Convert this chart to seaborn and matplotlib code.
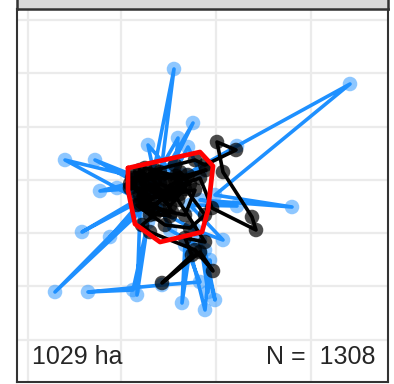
import pandas as pd
import seaborn as sns
import matplotlib.pyplot as plt

# location fixes (easting / northing, arbitrary map units)
# day track (blue)
blue_x = [150, 174, 160, 193, 170, 148, 155, 178, 175, 188, 200, 185, 237, 350, 215,
          292, 200, 237, 190, 223, 195, 65, 140, 95, 135, 100, 140, 117, 145, 82,
          142, 110, 138, 55, 140, 137, 148, 133, 88, 162, 200, 185, 182, 190, 205,
          210, 208, 200, 215, 205, 170, 160]
blue_y = [194, 315, 204, 261, 214, 239, 206, 246, 212, 237, 212, 209, 238, 300, 189,
          177, 184, 178, 179, 144, 154, 224, 206, 224, 202, 193, 196, 196, 189, 152,
          184, 147, 176, 92, 172, 89, 162, 94, 92, 99, 102, 139, 81, 134, 74,
          124, 92, 144, 84, 134, 154, 179]

# night track (black)
black_x = [140, 155, 175, 195, 205, 236, 217, 223, 252, 256, 212, 200, 180, 150, 135,
           148, 168, 195, 185, 160, 142, 150, 195, 213, 200, 162, 192, 185, 205, 178,
           140, 132, 158, 188, 206, 170, 150, 137, 165, 190, 205, 176, 145, 130, 160,
           145, 172, 155, 140, 135, 150, 165, 180, 190, 175, 160, 145, 138, 150, 165,
           180, 170, 155, 142, 160, 175, 185, 165, 150, 140, 155, 170, 145, 130]
black_y = [204, 214, 219, 224, 219, 234, 242, 212, 167, 154, 176, 206, 199, 184, 212,
           196, 189, 194, 169, 174, 159, 152, 134, 113, 132, 101, 129, 146, 142, 184,
           189, 206, 206, 209, 214, 199, 169, 179, 159, 156, 169, 208, 216, 196, 194,
           179, 172, 202, 214, 205, 210, 205, 212, 200, 195, 200, 195, 188, 178, 185,
           190, 178, 190, 200, 212, 205, 195, 192, 200, 180, 170, 168, 185, 200]

# minimum convex polygon vertices
mcp_x = [128, 200, 213, 208, 202, 160, 135, 128, 128]
mcp_y = [216, 232, 218, 174, 152, 142, 160, 194, 216]

grid_x = [28, 121, 216, 311]
grid_y = [44, 98, 151, 204, 257, 311, 364]

area_label = "1029 ha"
n_label = "N =  1308"

sns.set_theme(style="white")
plt.rcParams['font.family'] = ['Liberation Sans', 'DejaVu Sans']

fig = plt.figure(figsize=(3.94, 3.84), dpi=100)
ax = fig.add_axes([17 / 394, 2 / 384, 371 / 394, 373 / 384])

sns.lineplot(x=blue_x, y=blue_y, sort=False, estimator=None, color='#1E90FF',
             lw=2.6, ax=ax, zorder=2)
sns.scatterplot(x=blue_x, y=blue_y, color='#1E90FF', alpha=0.5, s=110,
                edgecolor='none', ax=ax, zorder=3)
sns.lineplot(x=black_x, y=black_y, sort=False, estimator=None, color='black',
             lw=2.6, ax=ax, zorder=4)
sns.scatterplot(x=black_x, y=black_y, color='black', alpha=0.7, s=110,
                edgecolor='none', ax=ax, zorder=5)
sns.lineplot(x=mcp_x, y=mcp_y, sort=False, estimator=None, color='#FF0000',
             lw=3.4, ax=ax, zorder=6)

ax.set_xlim(17, 388)
ax.set_ylim(2, 375)
ax.set_xticks(grid_x)
ax.set_yticks(grid_y)
ax.grid(True, color='#EBEBEB', lw=1.6)
ax.set_axisbelow(True)
ax.tick_params(length=0, labelbottom=False, labelleft=False)
for sp in ax.spines.values():
    sp.set_color('#333333')
    sp.set_linewidth(1.5)

ax.text(32, 27, area_label, fontsize=18, ha='left', va='center')
ax.text(376, 27, n_label, fontsize=18, ha='right', va='center')

# facet strip, mostly cut off at the top
strip = fig.add_axes([17 / 394, 375 / 384, 371 / 394, 12 / 384])
strip.set_facecolor('#D9D9D9')
strip.set_xticks([])
strip.set_yticks([])
for sp in strip.spines.values():
    sp.set_color('#333333')
    sp.set_linewidth(1.8)

fig.savefig('out.png', dpi=100)
